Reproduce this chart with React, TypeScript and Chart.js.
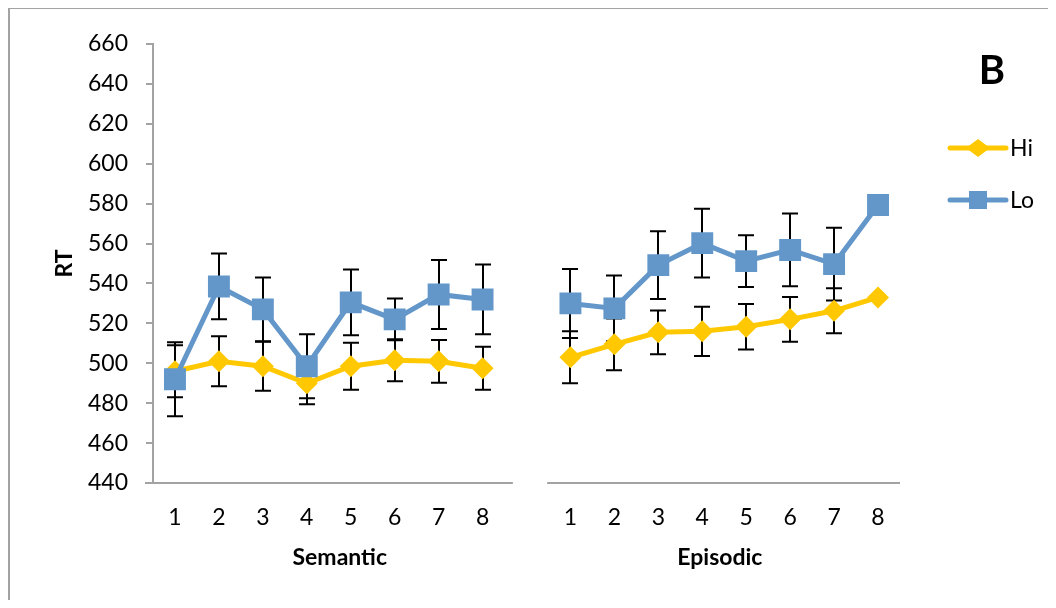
import React, { useEffect, useRef } from 'react';
import { Chart, registerables } from 'chart.js';

Chart.register(...registerables);

// ---- data ----
const semanticCats = ['1', '2', '3', '4', '5', '6', '7', '8'];
const episodicCats = ['1', '2', '3', '4', '5', '6', '7', '8'];

const hiSemantic = [496, 501, 498.5, 490, 498.5, 501.5, 501, 497.5];
const hiSemanticErr = [13, 12.5, 12.3, 10.5, 11.8, 10.5, 10.7, 10.8];
const loSemantic = [492, 538.5, 527, 498.5, 530.5, 522, 534.5, 532];
const loSemanticErr = [18.5, 16.5, 16, 16, 16.5, 10.5, 17.3, 17.5];

const hiEpisodic = [503, 509.5, 515.5, 516, 518.3, 522, 526.3, 533];
const hiEpisodicErr = [13, 13, 11, 12.3, 11.4, 11.2, 11.3, null];
const loEpisodic = [530, 527.5, 549.2, 560.2, 551.2, 556.8, 549.7, 579.3];
const loEpisodicErr = [17.3, 16.5, 17, 17.2, 13, 18.2, 18.2, null];

const yMin = 440;
const yMax = 660;
const yStep = 20;

const seriesNames = ['Hi', 'Lo'];
const groupNames = ['Semantic', 'Episodic'];
const yTitle = 'RT';
const panelLetter = 'B';

// ---- derived tables ----
const labels = [...semanticCats, '', ...episodicCats];
const hiAll = [...hiSemantic, null, ...hiEpisodic];
const hiErrAll = [...hiSemanticErr, null, ...hiEpisodicErr];
const loAll = [...loSemantic, null, ...loEpisodic];
const loErrAll = [...loSemanticErr, null, ...loEpisodicErr];

const HI_COLOR = '#FFC800';
const LO_COLOR = '#6397CA';
const AXIS_COLOR = '#a3a3a3';
const FONT = 'Lato, "Open Sans", sans-serif';

const W = 1048;
const H = 592;

const errorBarsPlugin = {
  id: 'errorBarsAndAxis',
  beforeDatasetsDraw(chart: any) {
    const { ctx, chartArea, scales } = chart;
    const x = scales.x;
    const y = scales.y;
    ctx.save();
    // broken x-axis line
    ctx.strokeStyle = AXIS_COLOR;
    ctx.lineWidth = 2;
    ctx.beginPath();
    ctx.moveTo(chartArea.left - 8, chartArea.bottom);
    ctx.lineTo(x.getPixelForValue(7.69), chartArea.bottom);
    ctx.moveTo(x.getPixelForValue(8.47), chartArea.bottom);
    ctx.lineTo(chartArea.right, chartArea.bottom);
    ctx.stroke();

    // error bars
    ctx.strokeStyle = '#000';
    ctx.lineWidth = 2;
    const sets: [any[], any[]][] = [
      [hiAll, hiErrAll],
      [loAll, loErrAll],
    ];
    for (const [vals, errs] of sets) {
      vals.forEach((v, i) => {
        const e = errs[i];
        if (v == null || e == null) return;
        const px = Math.round(x.getPixelForValue(i));
        const top = y.getPixelForValue(v + e);
        const bot = y.getPixelForValue(v - e);
        ctx.beginPath();
        ctx.moveTo(px, top);
        ctx.lineTo(px, bot);
        ctx.moveTo(px - 8, top);
        ctx.lineTo(px + 8, top);
        ctx.moveTo(px - 8, bot);
        ctx.lineTo(px + 8, bot);
        ctx.stroke();
      });
    }
    ctx.restore();
  },
  afterDraw(chart: any) {
    const { ctx, chartArea, scales } = chart;
    const x = scales.x;
    ctx.save();
    ctx.fillStyle = '#000';
    ctx.textAlign = 'center';
    ctx.textBaseline = 'middle';
    ctx.font = `bold 23px ${FONT}`;
    ctx.fillText(groupNames[0], x.getPixelForValue(3.75), chartArea.bottom + 75);
    ctx.fillText(groupNames[1], x.getPixelForValue(12.4), chartArea.bottom + 75);

    // y title
    ctx.save();
    ctx.translate(57, (chartArea.top + chartArea.bottom) / 2);
    ctx.rotate(-Math.PI / 2);
    ctx.fillText(yTitle, 0, 0);
    ctx.restore();

    // panel letter
    ctx.font = `bold 40px ${FONT}`;
    ctx.fillText(panelLetter, chartArea.right + 92, chartArea.top + 27);

    // legend
    const lx0 = chartArea.right + 50;
    const lx1 = chartArea.right + 106;
    const mx = (lx0 + lx1) / 2;
    const rows = [
      { name: seriesNames[0], color: HI_COLOR, y: chartArea.top + 104, shape: 'diamond' },
      { name: seriesNames[1], color: LO_COLOR, y: chartArea.top + 156, shape: 'square' },
    ];
    for (const r of rows) {
      ctx.strokeStyle = r.color;
      ctx.lineWidth = 5;
      ctx.lineCap = 'round';
      ctx.beginPath();
      ctx.moveTo(lx0, r.y);
      ctx.lineTo(lx1, r.y);
      ctx.stroke();
      ctx.fillStyle = r.color;
      ctx.beginPath();
      if (r.shape === 'diamond') {
        ctx.moveTo(mx - 12, r.y);
        ctx.lineTo(mx, r.y - 9);
        ctx.lineTo(mx + 12, r.y);
        ctx.lineTo(mx, r.y + 9);
        ctx.closePath();
      } else {
        ctx.rect(mx - 9, r.y - 9, 18, 18);
      }
      ctx.fill();
      ctx.fillStyle = '#000';
      ctx.textAlign = 'left';
      ctx.font = `23px ${FONT}`;
      ctx.fillText(r.name, lx1 + 4, r.y + 1);
    }
    ctx.restore();
  },
};

export default function App() {
  const canvasRef = useRef<HTMLCanvasElement | null>(null);

  useEffect(() => {
    const canvas = canvasRef.current;
    if (!canvas) return;
    const chart = new Chart(canvas, {
      type: 'line',
      data: {
        labels,
        datasets: [
          {
            label: seriesNames[0],
            data: hiAll,
            order: 2,
            borderColor: HI_COLOR,
            backgroundColor: HI_COLOR,
            borderWidth: 5,
            pointStyle: 'rectRot',
            pointRadius: 11,
            pointBorderWidth: 0,
            pointBackgroundColor: HI_COLOR,
            spanGaps: false,
            tension: 0,
          },
          {
            label: seriesNames[1],
            data: loAll,
            order: 1,
            borderColor: LO_COLOR,
            backgroundColor: LO_COLOR,
            borderWidth: 5,
            pointStyle: 'rect',
            pointRadius: 15.5,
            pointBorderWidth: 0,
            pointBackgroundColor: LO_COLOR,
            spanGaps: false,
            tension: 0,
          },
        ],
      },
      options: {
        animation: false,
        responsive: false,
        devicePixelRatio: 1,
        layout: { padding: { top: 36, right: 156, bottom: 0, left: 0 } },
        plugins: {
          legend: { display: false },
          title: { display: false },
          tooltip: { enabled: false },
        },
        scales: {
          x: {
            type: 'category',
            offset: true,
            grid: { display: false, drawTicks: false },
            border: { display: false },
            ticks: {
              color: '#000',
              font: { family: FONT, size: 23 },
              padding: 21,
              autoSkip: false,
              maxRotation: 0,
            },
            afterFit: (scale: any) => {
              scale.height = 117;
            },
          },
          y: {
            min: yMin,
            max: yMax,
            grid: {
              display: true,
              drawOnChartArea: false,
              drawTicks: true,
              tickLength: 7,
              color: AXIS_COLOR,
              lineWidth: 2,
            },
            border: { display: true, color: AXIS_COLOR, width: 2 },
            ticks: {
              stepSize: yStep,
              color: '#000',
              font: { family: FONT, size: 23 },
              padding: 18,
            },
            afterFit: (scale: any) => {
              scale.width = 145;
            },
          },
        },
      },
      plugins: [errorBarsPlugin],
    });
    return () => chart.destroy();
  }, []);

  return (
    <div style={{ position: 'relative', width: W, height: H }}>
      <canvas
        ref={canvasRef}
        width={W}
        height={H}
        style={{ display: 'block', width: W, height: H }}
      />
      <div
        style={{
          position: 'absolute',
          left: 0,
          top: -1,
          width: W,
          height: H + 1,
          boxSizing: 'border-box',
          borderLeft: `2px solid ${AXIS_COLOR}`,
          borderTop: `2px solid ${AXIS_COLOR}`,
          pointerEvents: 'none',
        }}
      />
    </div>
  );
}
